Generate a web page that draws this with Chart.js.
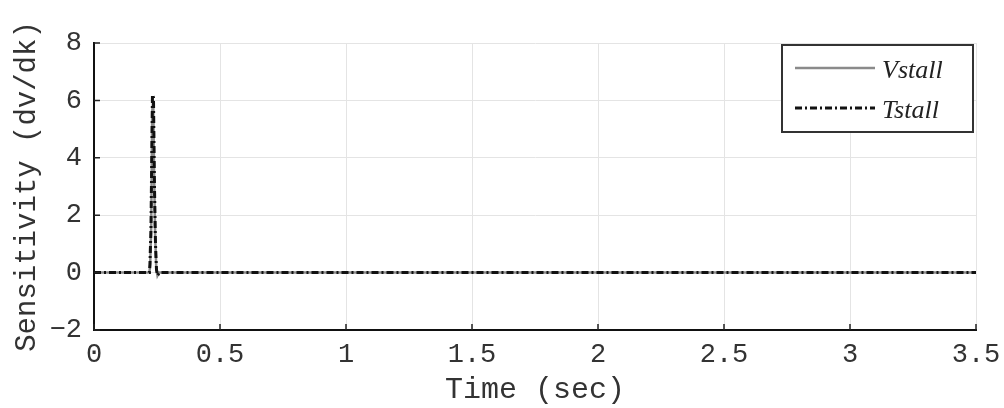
<!DOCTYPE html>
<html>
<head>
<meta charset="utf-8">
<script src="https://cdn.jsdelivr.net/npm/chart.js@4/dist/chart.umd.min.js"></script>
<style>
  html, body { margin: 0; padding: 0; background: #fff; }
  canvas { display: block; }
</style>
</head>
<body>
<canvas id="c" width="1004" height="408"></canvas>
<script>
// Sensitivity traces (time in seconds, sensitivity dv/dk)
const vstallTime = [0, 0.220, 0.223, 0.227, 0.231, 0.235, 0.239, 0.243, 0.247, 0.252, 0.258, 3.5];
const vstallSens = [0, 0, 0.3, 1.6, 5.6, 6.0, 3.2, 1.2, 0.2, -0.1, 0, 0];
const tstallTime = [0, 0.220, 0.222, 0.226, 0.232, 0.236, 0.240, 0.244, 0.248, 0.252, 0.260, 3.5];
const tstallSens = [0, 0, 0.3, 1.5, 6.2, 6.1, 3.0, 1.0, 0.1, -0.1, 0, 0];

const xTicks = [0, 0.5, 1, 1.5, 2, 2.5, 3, 3.5];
const yTicks = [-2, 0, 2, 4, 6, 8];

const seriesNames = ['Vstall', 'Tstall'];

const toXY = (xs, ys) => xs.map((x, i) => ({ x: x, y: ys[i] }));

const monoFont = 'Liberation Mono';
const textColor = '#333';

// Short inward tick marks on the left and bottom axes
const innerTicks = {
  id: 'innerTicks',
  afterDatasetsDraw(chart) {
    const { ctx, chartArea: a, scales: { x, y } } = chart;
    ctx.save();
    ctx.strokeStyle = '#222';
    ctx.lineWidth = 1.5;
    ctx.beginPath();
    xTicks.forEach(v => {
      const px = x.getPixelForValue(v);
      ctx.moveTo(px, a.bottom);
      ctx.lineTo(px, a.bottom - 6);
    });
    yTicks.forEach(v => {
      const py = y.getPixelForValue(v);
      ctx.moveTo(a.left, py);
      ctx.lineTo(a.left + 6, py);
    });
    ctx.stroke();
    ctx.restore();
  }
};

// Boxed legend in the upper right of the plot area
const boxedLegend = {
  id: 'boxedLegend',
  afterDraw(chart) {
    const { ctx, chartArea: a } = chart;
    const boxW = 191, boxH = 87;
    const bx = a.right - 3 - boxW, by = a.top + 2;
    ctx.save();
    ctx.fillStyle = '#fff';
    ctx.fillRect(bx, by, boxW, boxH);
    ctx.strokeStyle = '#333';
    ctx.lineWidth = 2;
    ctx.strokeRect(bx, by, boxW, boxH);
    chart.data.datasets.forEach((ds, i) => {
      const ly = by + 23 + i * 40;
      ctx.strokeStyle = ds.borderColor;
      ctx.lineWidth = ds.borderWidth;
      ctx.setLineDash(ds.borderDash || []);
      ctx.beginPath();
      ctx.moveTo(bx + 13, ly);
      ctx.lineTo(bx + 93, ly);
      ctx.stroke();
      ctx.setLineDash([]);
      ctx.fillStyle = '#222';
      ctx.font = 'italic 26px "Liberation Serif"';
      ctx.textBaseline = 'middle';
      ctx.textAlign = 'left';
      ctx.fillText(ds.label, bx + 100, ly + 3);
    });
    ctx.restore();
  }
};

new Chart(document.getElementById('c'), {
  type: 'line',
  data: {
    datasets: [
      {
        label: seriesNames[0],
        data: toXY(vstallTime, vstallSens),
        borderColor: '#8a8a8a',
        borderWidth: 2.5,
        pointRadius: 0,
        tension: 0,
        fill: false,
        order: 2
      },
      {
        label: seriesNames[1],
        data: toXY(tstallTime, tstallSens),
        borderColor: '#111',
        borderWidth: 3,
        borderDash: [7, 3, 2, 3],
        pointRadius: 0,
        tension: 0,
        fill: false,
        order: 1
      }
    ]
  },
  options: {
    responsive: false,
    devicePixelRatio: 1,
    animation: false,
    layout: { padding: { left: 10, top: 43, right: 28, bottom: 0 } },
    plugins: {
      legend: { display: false },
      tooltip: { enabled: false }
    },
    scales: {
      x: {
        type: 'linear',
        min: 0,
        max: 3.5,
        afterFit(s) { s.height = 78; s.paddingLeft = 0; s.paddingRight = 0; },
        afterBuildTicks(s) { s.ticks = xTicks.map(v => ({ value: v })); },
        grid: { color: '#e4e4e4', lineWidth: 1, drawTicks: false },
        border: { color: '#111', width: 2 },
        ticks: {
          color: textColor,
          font: { family: monoFont, size: 27 },
          padding: 9,
          maxRotation: 0,
          callback: v => String(v)
        },
        title: {
          display: true,
          text: 'Time (sec)',
          color: textColor,
          font: { family: monoFont, size: 30 },
          padding: { top: -8, bottom: 0 }
        }
      },
      y: {
        type: 'linear',
        min: -2,
        max: 8,
        afterFit(s) { s.width = 84; s.paddingTop = 0; s.paddingBottom = 0; },
        afterBuildTicks(s) { s.ticks = yTicks.map(v => ({ value: v })); },
        grid: { color: '#e4e4e4', lineWidth: 1, drawTicks: false },
        border: { color: '#111', width: 2 },
        ticks: {
          color: textColor,
          font: { family: monoFont, size: 27 },
          padding: 12,
          callback: v => String(v).replace('-', '\u2212')
        },
        title: {
          display: true,
          text: 'Sensitivity (dv/dk)',
          color: textColor,
          font: { family: monoFont, size: 29 },
          padding: { top: 0, bottom: 2 }
        }
      }
    }
  },
  plugins: [innerTicks, boxedLegend]
});
</script>
</body>
</html>
